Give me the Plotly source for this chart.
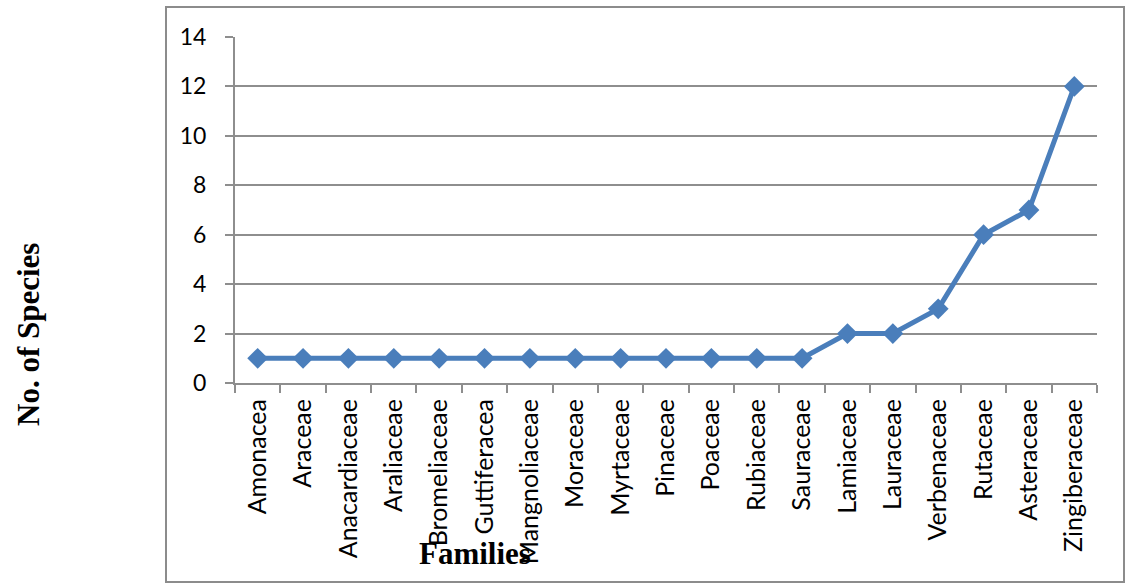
import plotly.graph_objects as go

# Plant families and number of species recorded in each
families = [
    "Amonacea", "Araceae", "Anacardiaceae", "Araliaceae", "Bromeliaceae",
    "Guttiferacea", "Mangnoliaceae", "Moraceae", "Myrtaceae", "Pinaceae",
    "Poaceae", "Rubiaceae", "Sauraceae", "Lamiaceae", "Lauraceae",
    "Verbenaceae", "Rutaceae", "Asteraceae", "Zingiberaceae",
]
species_counts = [1, 1, 1, 1, 1, 1, 1, 1, 1, 1, 1, 1, 1, 2, 2, 3, 6, 7, 12]
y_ticks = [0, 2, 4, 6, 8, 10, 12, 14]

W, H = 1128, 583
L, R, T, B = 235, 31, 37, 200
plot_w = W - L - R
plot_h = H - T - B

def px_to_paper_x(px):
    return (px - L) / plot_w

def px_to_paper_y(py):
    return (H - B - py) / plot_h

LINE_BLUE = "#4A7EBB"
GRID = "#8E8E8E"

fig = go.Figure(
    go.Scatter(
        x=families,
        y=species_counts,
        mode="lines+markers",
        line=dict(color=LINE_BLUE, width=5),
        marker=dict(symbol="diamond", size=16, color=LINE_BLUE),
        showlegend=False,
        cliponaxis=False,
    )
)

fig.update_layout(
    width=W,
    height=H,
    autosize=False,
    margin=dict(l=L, r=R, t=T, b=B, pad=0),
    paper_bgcolor="white",
    plot_bgcolor="white",
    font=dict(family="Lato", color="#000000"),
    xaxis=dict(
        type="category",
        range=[-0.5, len(families) - 0.5],
        tickangle=-90,
        tickfont=dict(family="Lato", size=25, color="#000000"),
        ticks="outside",
        tickson="boundaries",
        ticklen=8,
        tickwidth=2,
        tickcolor=GRID,
        showline=True,
        linecolor=GRID,
        linewidth=2,
        showgrid=False,
        zeroline=False,
        ticklabelstandoff=4,
    ),
    yaxis=dict(
        range=[0, 14],
        tickvals=y_ticks,
        ticktext=[str(v) for v in y_ticks],
        tickfont=dict(family="Lato", size=23, color="#000000"),
        ticks="outside",
        ticklen=8,
        tickwidth=2,
        tickcolor=GRID,
        showline=True,
        linecolor=GRID,
        linewidth=2,
        showgrid=True,
        gridcolor=GRID,
        gridwidth=2,
        zeroline=False,
        ticklabelstandoff=14,
    ),
    shapes=[
        dict(
            type="rect",
            xref="paper", yref="paper",
            x0=px_to_paper_x(166), x1=px_to_paper_x(1124),
            y0=px_to_paper_y(582), y1=px_to_paper_y(7),
            line=dict(color="#8C8C8C", width=2),
            fillcolor="rgba(0,0,0,0)",
            layer="below",
        )
    ],
    annotations=[
        dict(
            text="<b>No. of Species</b>",
            xref="paper", yref="paper",
            x=px_to_paper_x(28), y=px_to_paper_y(335),
            textangle=-90,
            showarrow=False,
            font=dict(family="Liberation Serif", size=31, color="#000000"),
            xanchor="center", yanchor="middle",
        ),
        dict(
            text="<b>Families</b>",
            xref="paper", yref="paper",
            x=px_to_paper_x(475), y=px_to_paper_y(553),
            showarrow=False,
            font=dict(family="Liberation Serif", size=31, color="#000000"),
            xanchor="center", yanchor="middle",
        ),
    ],
)

fig.write_html("out.html")
